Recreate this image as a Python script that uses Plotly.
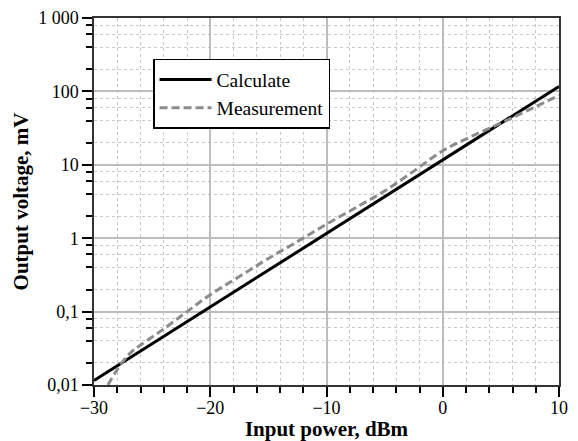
import plotly.graph_objects as go

# Data
calc_x = [-30, -25, -20, -15, -10, -5, 0, 5, 10]
calc_y = [0.0115, 0.0365, 0.116, 0.368, 1.17, 3.7, 11.7, 37, 117]

meas_x = [-28.8, -28.2, -27.5, -26.8, -26.0, -24.0, -22.0, -20.0, -17.5, -15.0, -12.5, -10.0, -7.5, -5.0, -2.5, 0.0, 2.5, 5.0, 7.5, 10.0]
meas_y = [0.010, 0.0145, 0.021, 0.028, 0.035, 0.058, 0.100, 0.170, 0.30, 0.53, 0.90, 1.55, 2.6, 4.4, 8.2, 15.5, 24.5, 37.0, 57.0, 88.0]

x_ticks = [-30, -20, -10, 0, 10]
x_ticktext = ["\u221230", "\u221220", "\u221210", "0", "10"]
x_minor = [-28, -26, -24, -22, -18, -16, -14, -12, -8, -6, -4, -2, 2, 4, 6, 8]
y_ticks = [0.01, 0.1, 1, 10, 100, 1000]
y_ticktext = ["0,01", "0,1", "1", "10", "100", "1 000"]
y_minor = []
for d in [0.01, 0.1, 1, 10, 100]:
    for m in [2, 4, 6, 8]:
        y_minor.append(round(d * m, 6))

FONT = "Liberation Serif"

fig = go.Figure()
fig.add_trace(go.Scatter(x=calc_x, y=calc_y, mode="lines", name="Calculate",
                         line=dict(color="black", width=3)))
fig.add_trace(go.Scatter(x=meas_x, y=meas_y, mode="lines", name="Measurement",
                         line=dict(color="#8c8c8c", width=3, dash="8px,4px", shape="spline")))

# page body has an 8px margin, so the figure is made 8px smaller and shifted
fig.update_layout(
    width=570, height=433,
    margin=dict(l=86, r=19, t=10, b=56),
    paper_bgcolor="white", plot_bgcolor="white",
    font=dict(family=FONT, size=18, color="black"),
    showlegend=True,
    legend=dict(x=0.127, y=0.889, xanchor="left", yanchor="top",
                bordercolor="black", borderwidth=1.5, bgcolor="white",
                font=dict(family=FONT, size=19.5), tracegroupgap=0,
                itemwidth=52),
)

fig.update_xaxes(
    range=[-30, 10], tickmode="array", tickvals=x_ticks, ticktext=x_ticktext,
    ticks="outside", ticklen=10, tickwidth=1.5, tickcolor="black",
    showline=True, linecolor="#333", linewidth=1.5, mirror=True,
    showgrid=True, gridcolor="#bdbdbd", gridwidth=1.5,
    zeroline=False, automargin=False, ticklabelstandoff=-4,
    tickfont=dict(family=FONT, size=18),
    title=dict(text="<b>Input power, dBm</b>", font=dict(family=FONT, size=21), standoff=12),
    minor=dict(tickmode="array", tickvals=x_minor, ticks="outside", ticklen=6,
               tickwidth=1.5, tickcolor="black", showgrid=True,
               gridcolor="#c8c8c8", gridwidth=1, griddash="dot"),
)

fig.update_yaxes(
    type="log", range=[-2, 3], tickmode="array", tickvals=y_ticks, ticktext=y_ticktext,
    ticks="outside", ticklen=10, tickwidth=1.5, tickcolor="black",
    showline=True, linecolor="#333", linewidth=1.5, mirror=True,
    showgrid=True, gridcolor="#bdbdbd", gridwidth=1.5,
    zeroline=False, automargin=False,
    tickfont=dict(family=FONT, size=18),
    title=dict(text="<b>Output voltage, mV</b>", font=dict(family=FONT, size=21), standoff=4),
    minor=dict(tickmode="array", tickvals=y_minor, ticks="outside", ticklen=6,
               tickwidth=1.5, tickcolor="black", showgrid=True,
               gridcolor="#c8c8c8", gridwidth=1, griddash="dot"),
)

fig.write_html("out.html")
